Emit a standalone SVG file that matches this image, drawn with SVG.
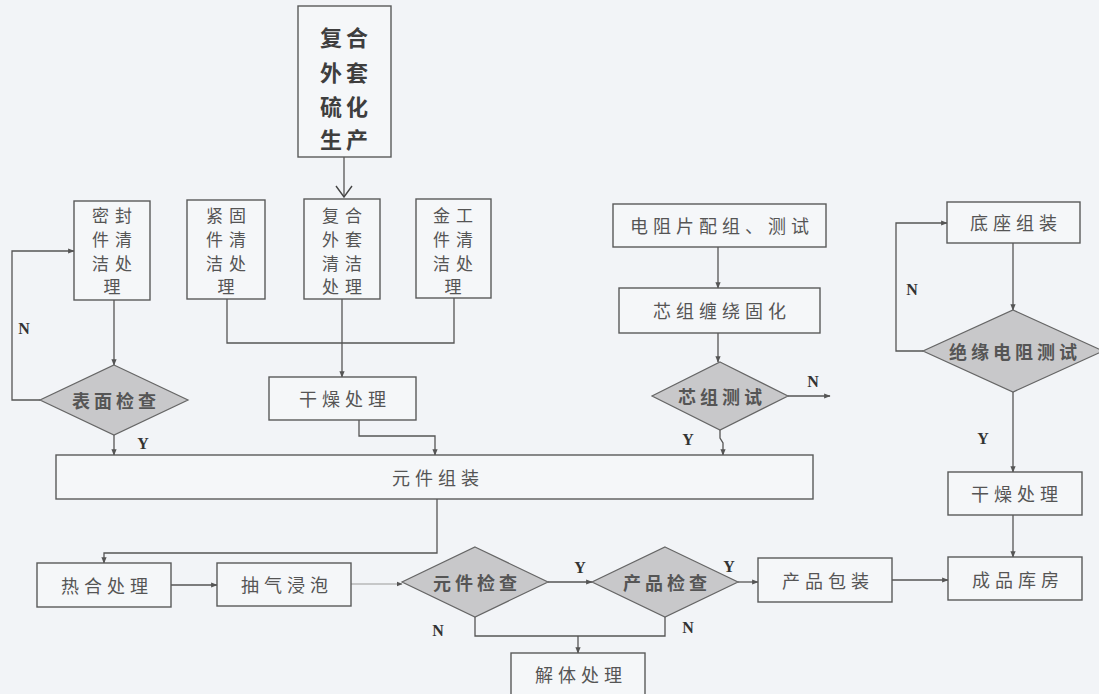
<svg xmlns="http://www.w3.org/2000/svg" width="1099" height="694" viewBox="0 0 1099 694">
<defs>
<marker id="ah" viewBox="0 0 10 10" refX="9" refY="5" markerWidth="5" markerHeight="5" orient="auto">
<path d="M0,1 L10,5 L0,9 Z" fill="#555"/>
</marker>
<marker id="vee" viewBox="0 0 20 20" refX="10" refY="19" markerWidth="20" markerHeight="20" markerUnits="userSpaceOnUse" orient="0">
<path d="M2,8 L10,19 L18,8" fill="none" stroke="#444" stroke-width="1.4"/>
</marker>
<style>
.box{fill:#f5f7f9;stroke:#5a5a5a;stroke-width:1.4}
.dia{fill:#c8c8ca;stroke:#666;stroke-width:1.2}
.t{font-family:"Noto Sans CJK SC","Noto Sans",sans-serif;font-size:18px;fill:#555;letter-spacing:5px;text-anchor:middle;dominant-baseline:central}
.tv{font-family:"Noto Sans CJK SC","Noto Sans",sans-serif;font-size:17px;fill:#555;letter-spacing:6px;text-anchor:middle;dominant-baseline:central}
.tb{font-family:"Noto Sans CJK SC","Noto Sans",sans-serif;font-size:22px;font-weight:bold;fill:#3e3e3e;letter-spacing:4px;text-anchor:middle;dominant-baseline:central}
.td{font-family:"Noto Sans CJK SC","Noto Sans",sans-serif;font-size:18px;font-weight:bold;fill:#555;letter-spacing:4px;text-anchor:middle;dominant-baseline:central}
.lb{font-family:"Liberation Serif",serif;font-size:16px;font-weight:bold;fill:#333;text-anchor:middle;dominant-baseline:central}
.c{fill:none;stroke:#555;stroke-width:1.3}
.cl{fill:none;stroke:#999;stroke-width:1.2}
</style>
</defs>
<rect width="1099" height="694" fill="#f2f4f7"/>

<g id="connectors">
<path class="c" d="M344,157 L344,197" marker-end="url(#vee)"/>
<path class="c" d="M114,300 L114,365" marker-end="url(#ah)"/>
<path class="c" d="M227,299 L227,343 L454,343 L454,298"/>
<path class="c" d="M342,299 L342,377" marker-end="url(#ah)"/>
<path class="c" d="M40,400 L12,400 L12,251 L74,251" marker-end="url(#ah)"/>
<path class="c" d="M114,435 L114,455" marker-end="url(#ah)"/>
<path class="c" d="M359,420 L359,436 L435,436 L435,455" marker-end="url(#ah)"/>
<path class="c" d="M718,247 L718,288" marker-end="url(#ah)"/>
<path class="c" d="M718,333 L718,362" marker-end="url(#ah)"/>
<path class="c" d="M788,396 L830,396" marker-end="url(#ah)"/>
<path class="c" d="M720,430 L720,438 L723,443 L723,455" marker-end="url(#ah)"/>
<path class="c" d="M1013,243 L1013,310" marker-end="url(#ah)"/>
<path class="c" d="M923,351 L896,351 L896,223 L947,223" marker-end="url(#ah)"/>
<path class="c" d="M1013,392 L1013,472" marker-end="url(#ah)"/>
<path class="c" d="M1013,515 L1013,557" marker-end="url(#ah)"/>
<path class="c" d="M437,499 L437,553 L104,553 L104,563" marker-end="url(#ah)"/>
<path class="c" d="M171,585 L217,585" marker-end="url(#ah)"/>
<path class="cl" d="M351,584 L402,584" marker-end="url(#ah)"/>
<path class="c" d="M548,582 L592,582" marker-end="url(#ah)"/>
<path class="c" d="M738,582 L758,582" marker-end="url(#ah)"/>
<path class="c" d="M892,580 L948,580" marker-end="url(#ah)"/>
<path class="c" d="M475,617 L475,636 L665,636 L665,617"/>
<path class="c" d="M578,636 L578,653" marker-end="url(#ah)"/>
<text class="lb" x="24" y="328">N</text>
<text class="lb" x="143" y="443">Y</text>
<text class="lb" x="813" y="381">N</text>
<text class="lb" x="688" y="439">Y</text>
<text class="lb" x="912" y="289">N</text>
<text class="lb" x="983" y="438">Y</text>
<text class="lb" x="580" y="567">Y</text>
<text class="lb" x="729" y="566">Y</text>
<text class="lb" x="438" y="630">N</text>
<text class="lb" x="688" y="627">N</text>
</g>

<g id="n-vulcan">
<rect class="box" x="298" y="6" width="93" height="151"/>
<text class="tb" x="346" y="36">复合</text>
<text class="tb" x="346" y="71">外套</text>
<text class="tb" x="346" y="105">硫化</text>
<text class="tb" x="346" y="138">生产</text>
</g>
<g id="n-seal">
<rect class="box" x="74" y="201" width="76" height="99"/>
<text class="tv" x="115" y="214">密封</text>
<text class="tv" x="115" y="238">件清</text>
<text class="tv" x="115" y="262">洁处</text>
<text class="tv" x="115" y="285">理</text>
</g>
<g id="n-fasten">
<rect class="box" x="187" y="200" width="78" height="99"/>
<text class="tv" x="229" y="214">紧固</text>
<text class="tv" x="229" y="238">件清</text>
<text class="tv" x="229" y="262">洁处</text>
<text class="tv" x="229" y="285">理</text>
</g>
<g id="n-jacket-clean">
<rect class="box" x="304" y="199" width="76" height="100"/>
<text class="tv" x="345" y="214">复合</text>
<text class="tv" x="345" y="238">外套</text>
<text class="tv" x="345" y="262">清洁</text>
<text class="tv" x="345" y="285">处理</text>
</g>
<g id="n-metal">
<rect class="box" x="416" y="199" width="75" height="99"/>
<text class="tv" x="456" y="214">金工</text>
<text class="tv" x="456" y="238">件清</text>
<text class="tv" x="456" y="262">洁处</text>
<text class="tv" x="456" y="285">理</text>
</g>
<g id="n-surface">
<polygon class="dia" points="114,365 188,400 114,435 40,400"/>
<text class="td" x="116" y="400">表面检查</text>
</g>
<g id="n-dry1">
<rect class="box" x="269" y="377" width="147" height="43"/>
<text class="t" x="345" y="398">干燥处理</text>
</g>
<g id="n-resistor">
<rect class="box" x="613" y="204" width="213" height="43"/>
<text class="t" x="722" y="225">电阻片配组、测试</text>
</g>
<g id="n-core-wind">
<rect class="box" x="619" y="288" width="201" height="45"/>
<text class="t" x="722" y="310">芯组缠绕固化</text>
</g>
<g id="n-core-test">
<polygon class="dia" points="720,362 788,396 720,430 652,396"/>
<text class="td" x="722" y="396">芯组测试</text>
</g>
<g id="n-base">
<rect class="box" x="947" y="202" width="133" height="41"/>
<text class="t" x="1016" y="222">底座组装</text>
</g>
<g id="n-insul">
<polygon class="dia" points="1013,310 1103,351 1013,392 923,351"/>
<text class="td" x="1015" y="351">绝缘电阻测试</text>
</g>
<g id="n-dry2">
<rect class="box" x="948" y="472" width="134" height="43"/>
<text class="t" x="1017" y="493">干燥处理</text>
</g>
<g id="n-assemble">
<rect class="box" x="56" y="455" width="757" height="44"/>
<text class="t" x="438" y="477">元件组装</text>
</g>
<g id="n-heat">
<rect class="box" x="37" y="563" width="134" height="44"/>
<text class="t" x="107" y="585">热合处理</text>
</g>
<g id="n-vacuum">
<rect class="box" x="217" y="563" width="134" height="43"/>
<text class="t" x="287" y="584">抽气浸泡</text>
</g>
<g id="n-elem-check">
<polygon class="dia" points="475,547 548,582 475,617 402,582"/>
<text class="td" x="477" y="582">元件检查</text>
</g>
<g id="n-prod-check">
<polygon class="dia" points="665,547 738,582 665,617 592,582"/>
<text class="td" x="667" y="582">产品检查</text>
</g>
<g id="n-pack">
<rect class="box" x="758" y="558" width="134" height="44"/>
<text class="t" x="828" y="580">产品包装</text>
</g>
<g id="n-store">
<rect class="box" x="948" y="557" width="134" height="43"/>
<text class="t" x="1018" y="579">成品库房</text>
</g>
<g id="n-disassemble">
<rect class="box" x="511" y="653" width="134" height="48"/>
<text class="t" x="581" y="674">解体处理</text>
</g>
</svg>
